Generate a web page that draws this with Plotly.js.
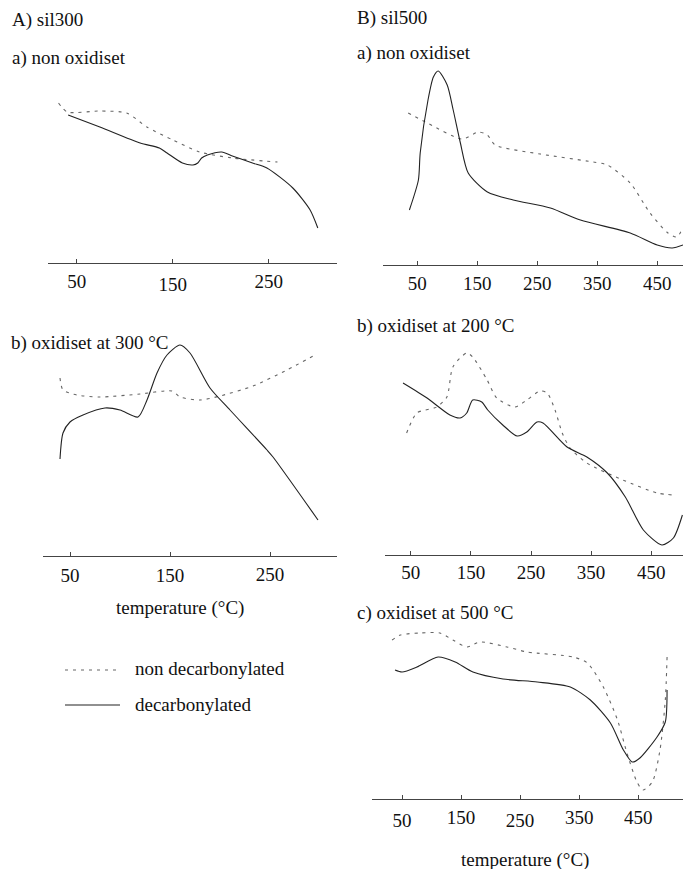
<!DOCTYPE html>
<html>
<head>
<meta charset="utf-8">
<script src="https://cdn.plot.ly/plotly-3.0.1.min.js"></script>
<style>html,body{margin:0;padding:0;background:#fff;}#chart{width:683px;height:869px;}</style>
</head>
<body>
<div id="chart"></div>
<script>
// ---- Data (temperature in °C, signal in arbitrary units) ----
// A) sil300, a) non oxidiset
const aaDashX = [31, 40, 74, 102, 123, 150, 178, 212, 259];
const aaDashY = [160, 151, 152, 150, 136, 123, 111, 105, 101];
const aaSolidX = [41, 74, 116, 136, 144, 160, 171, 176, 180, 186, 201, 212, 233, 248, 275, 293, 301];
const aaSolidY = [148, 136, 120, 115, 110, 100, 98, 100, 105, 108, 111, 107, 100, 95, 75, 53, 35];
// A) sil300, b) oxidiset at 300 °C
const abDashX = [40, 43, 57, 80, 120, 152, 160, 180, 200, 233, 267, 295];
const abDashY = [178, 166, 161, 159, 162, 165, 159, 156, 160, 170, 186, 201];
const abSolidX = [40, 43, 50, 63, 85, 100, 118, 127, 137, 147, 160, 170, 190, 210, 247, 253, 298];
const abSolidY = [97, 123, 134, 141, 148, 146, 139, 156, 183, 201, 211, 203, 168, 146, 106, 99, 36];
// B) sil500, a) non oxidiset
const baDashX = [35, 67, 125, 152, 167, 180, 255, 343, 367, 405, 438, 468, 483, 493];
const baDashY = [152, 142, 126, 133, 130, 120, 111, 103, 100, 82, 52, 32, 28, 38];
const baSolidX = [37, 52, 55, 68, 77, 85, 100, 110, 122, 135, 167, 210, 272, 322, 405, 450, 475, 493];
const baSolidY = [55, 85, 112, 165, 188, 194, 180, 155, 122, 92, 73, 65, 57, 45, 32, 20, 17, 20];
// B) sil500, b) oxidiset at 200 °C
const bbDashX = [43, 60, 93, 110, 120, 143, 153, 177, 193, 223, 243, 265, 277, 290, 302, 315, 343, 403, 460, 487];
const bbDashY = [122, 142, 148, 158, 188, 202, 198, 175, 157, 148, 155, 164, 162, 145, 122, 107, 92, 75, 62, 60];
const bbSolidX = [37, 77, 115, 132, 143, 153, 168, 178, 203, 227, 243, 260, 270, 310, 343, 377, 407, 437, 468, 487, 502];
const bbSolidY = [172, 157, 140, 137, 142, 155, 153, 145, 130, 119, 123, 133, 132, 108, 98, 82, 58, 25, 10, 17, 40];
// B) sil500, c) oxidiset at 500 °C
const bcDashX = [33, 47, 80, 114, 136, 160, 182, 228, 262, 340, 364, 391, 415, 431, 448, 458, 474, 487, 496, 499];
const bcDashY = [159, 164, 166, 166, 159, 152, 157, 152, 147, 142, 136, 112, 79, 46, 17, 9, 17, 49, 99, 142];
const bcSolidX = [38, 50, 75, 111, 140, 170, 221, 279, 335, 369, 403, 425, 440, 453, 482, 496, 499];
const bcSolidY = [129, 127, 132, 142, 137, 127, 120, 117, 112, 99, 76, 49, 37, 41, 62, 77, 109];

// tick labels (upper row / lower, staggered row as printed)
const ticksAaUpper = [50, 250];
const ticksAaLower = [150];
const ticksAbUpper = [50, 150];
const ticksAbLower = [250];
const ticksBa = [50, 150, 250, 350, 450];
const ticksBb = [50, 150, 250, 350, 450];
const ticksBcUpper = [150, 350, 450];
const ticksBcLower = [50, 250];

const seriesNames = ["non decarbonylated", "decarbonylated"];
const panelLabels = ["A) sil300", "a) non oxidiset", "b) oxidiset at 300 °C",
                     "B) sil500", "a) non oxidiset", "b) oxidiset at 200 °C", "c) oxidiset at 500 °C"];
const xTitle = "temperature (°C)";

// ---- Layout helpers (pixel -> paper) ----
const W = 683, H = 869;
const px = v => v / W;
const py = v => 1 - v / H;
const FONT = "Liberation Serif";

const dashStyle = {color: "#666", width: 1.1, dash: "3px,5px"};
const solidStyle = {color: "#222", width: 1.1};

function pair(dx, dy, sx, sy, ax) {
  return [
    {x: dx, y: dy, xaxis: "x" + ax, yaxis: "y" + ax, mode: "lines", type: "scatter",
     name: seriesNames[0], line: Object.assign({shape: "spline", smoothing: 0.7}, dashStyle), showlegend: false, hoverinfo: "skip"},
    {x: sx, y: sy, xaxis: "x" + ax, yaxis: "y" + ax, mode: "lines", type: "scatter",
     name: seriesNames[1], line: Object.assign({shape: "spline", smoothing: 0.7}, solidStyle), showlegend: false, hoverinfo: "skip"}
  ];
}

const data = [].concat(
  pair(aaDashX, aaDashY, aaSolidX, aaSolidY, ""),
  pair(abDashX, abDashY, abSolidX, abSolidY, "2"),
  pair(baDashX, baDashY, baSolidX, baSolidY, "3"),
  pair(bbDashX, bbDashY, bbSolidX, bbSolidY, "4"),
  pair(bcDashX, bcDashY, bcSolidX, bcSolidY, "5")
);

// panel geometry in pixels: [left, right, axisLineY, topY, xmin, xmax, upperTicks, standoff, lowerTicks, lowerStandoff, overlayId]
const panels = [
  [48, 337, 263, 63, 20, 321, ticksAaUpper, 1, ticksAaLower, 8, "6"],
  [43, 337, 556, 336, 23, 317, ticksAbUpper, 2, ticksAbLower, 5, "7"],
  [383, 683, 265, 65, -7, 493, ticksBa, 1, null, 0, null],
  [385, 683, 555, 335, 7, 503, ticksBb, 0, null, 0, null],
  [372, 683, 799, 619, -1, 526, ticksBcUpper, 1, ticksBcLower, 8, "8"]
];

const layout = {
  width: W, height: H,
  margin: {l: 0, r: 0, t: 0, b: 0},
  paper_bgcolor: "#fff", plot_bgcolor: "rgba(0,0,0,0)",
  showlegend: false,
  font: {family: FONT, size: 19, color: "#111"},
  annotations: [], shapes: []
};

const tickFont = {family: FONT, size: 19, color: "#111"};

panels.forEach((p, i) => {
  const suf = i === 0 ? "" : String(i + 1);
  layout["xaxis" + suf] = {
    domain: [px(p[0]), px(p[1])], range: [p[4], p[5]], anchor: "y" + suf,
    showline: true, linecolor: "#444", linewidth: 1.4, showgrid: false, zeroline: false,
    tickmode: "array", tickvals: p[6], ticktext: p[6].map(String),
    ticks: "inside", ticklen: 4, tickcolor: "#444", tickwidth: 1,
    ticklabelstandoff: p[7], tickfont: tickFont
  };
  layout["yaxis" + suf] = {
    domain: [py(p[2]), py(p[3])], range: [0, p[2] - p[3]], anchor: "x" + suf,
    visible: false, showgrid: false, zeroline: false
  };
  if (p[8]) {
    // second (staggered) row of tick labels on an overlaying axis
    layout["xaxis" + p[10]] = {
      overlaying: "x" + suf, anchor: "y" + suf, side: "bottom", range: [p[4], p[5]],
      showline: false, showgrid: false, zeroline: false,
      tickmode: "array", tickvals: p[8], ticktext: p[8].map(String),
      ticks: "inside", ticklen: 4, tickcolor: "#444", tickwidth: 1,
      ticklabelstandoff: p[9], tickfont: tickFont
    };
    data.push({x: [], y: [], xaxis: "x" + p[10], yaxis: "y" + suf, type: "scatter", mode: "lines",
               showlegend: false, hoverinfo: "skip"});
  }
});

function txt(t, x, y, anchor) {
  layout.annotations.push({text: t, xref: "paper", yref: "paper", x: px(x), y: py(y),
    xanchor: anchor || "left", yanchor: "middle", showarrow: false,
    font: {family: FONT, size: 19, color: "#111"}});
}
txt(panelLabels[0], 10, 20);
txt(panelLabels[1], 10, 58);
txt(panelLabels[2], 9, 343);
txt(panelLabels[3], 355, 18);
txt(panelLabels[4], 355, 53);
txt(panelLabels[5], 355, 326);
txt(panelLabels[6], 355, 613);
txt(xTitle, 180, 608, "center");
txt(xTitle, 525, 860, "center");
// legend
txt(seriesNames[0], 133, 668);
txt(seriesNames[1], 133, 704);
layout.shapes.push({type: "line", xref: "paper", yref: "paper", x0: px(65), x1: px(120), y0: py(670), y1: py(670), line: dashStyle});
layout.shapes.push({type: "line", xref: "paper", yref: "paper", x0: px(65), x1: px(120), y0: py(705), y1: py(705), line: solidStyle});

Plotly.newPlot("chart", data, layout, {staticPlot: true, displayModeBar: false});
</script>
</body>
</html>
